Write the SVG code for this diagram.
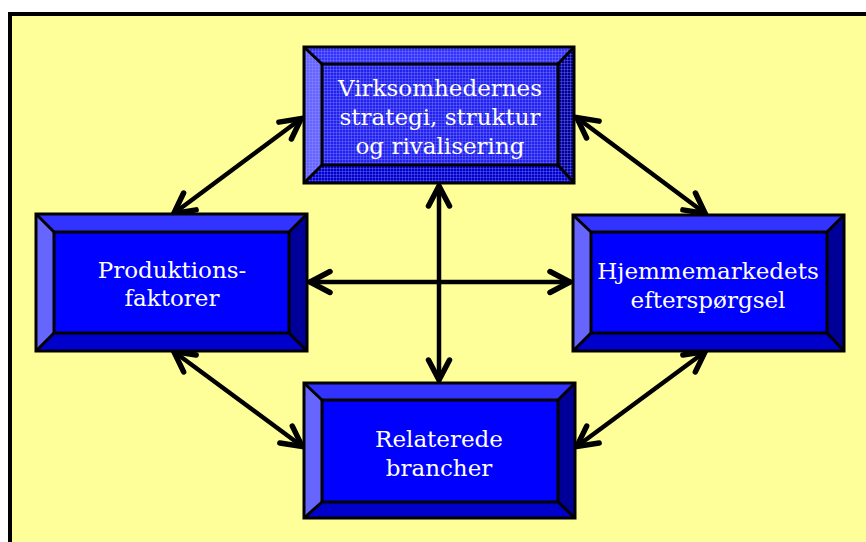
<svg xmlns="http://www.w3.org/2000/svg" width="866" height="542" viewBox="0 0 866 542">
<defs>
<style>
.bt{fill:#3333FF}
.bl{fill:#6666FF}
.br{fill:#000099}
.bb{fill:#0000CC}
.face{fill:#0000FF}
.edge{fill:none;stroke:#000;stroke-width:3}
.lbl{font-family:"DejaVu Serif","Liberation Serif",serif;font-size:23px;fill:#FFFFFF;text-anchor:middle}
.con{stroke:#000;stroke-width:4.5;fill:none;marker-start:url(#ah);marker-end:url(#ah)}
</style>
<marker id="ah" markerUnits="userSpaceOnUse" viewBox="-28 -16 32 32" refX="0" refY="0" markerWidth="32" markerHeight="32" orient="auto-start-reverse">
<path d="M -21 -10.5 L -1 0 L -21 10.5" fill="none" stroke="#000" stroke-width="5.5" stroke-linecap="round" stroke-linejoin="miter"/>
</marker>
<pattern id="tex" width="3" height="3" patternUnits="userSpaceOnUse">
<rect x="0" y="0" width="1" height="3" fill="#9999FF" fill-opacity="0.3"/>
<rect x="0" y="0" width="3" height="1" fill="#9999FF" fill-opacity="0.3"/>
</pattern>
</defs>
<rect x="10" y="14" width="900" height="600" fill="#FFFF99" stroke="#000" stroke-width="4"/>

<g id="connectors">
<line class="con" x1="309" y1="282" x2="571" y2="282"/>
<line class="con" x1="439" y1="185" x2="439" y2="381"/>
<line class="con" x1="302" y1="118" x2="173" y2="214"/>
<line class="con" x1="576" y1="117" x2="706" y2="214"/>
<line class="con" x1="173" y1="351" x2="303" y2="447"/>
<line class="con" x1="706" y1="351" x2="576" y2="447"/>
</g>

<g id="node-top">
<polygon class="bt" points="304,47 574,47 558,64 322,64"/>
<polygon class="bl" points="304,47 322,64 322,165 304,183"/>
<polygon class="br" points="574,47 574,183 558,165 558,64"/>
<polygon class="bb" points="304,183 322,165 558,165 574,183"/>
<rect x="322" y="64" width="236" height="101" fill="#2222EE"/>
<rect x="304" y="47" width="270" height="136" fill="url(#tex)"/>
<rect class="edge" x="304" y="47" width="270" height="136"/>
<rect class="edge" x="322" y="64" width="236" height="101"/>
<path class="edge" d="M304,47 L322,64 M574,47 L558,64 M304,183 L322,165 M574,183 L558,165"/>
<text class="lbl" x="440" y="96">Virksomhedernes</text>
<text class="lbl" x="440" y="125">strategi, struktur</text>
<text class="lbl" x="440" y="154">og rivalisering</text>
</g>

<g id="node-left">
<polygon class="bt" points="36,214 307,214 289,232 54,232"/>
<polygon class="bl" points="36,214 54,232 54,333 36,351"/>
<polygon class="br" points="307,214 307,351 289,333 289,232"/>
<polygon class="bb" points="36,351 54,333 289,333 307,351"/>
<rect class="face" x="54" y="232" width="235" height="101"/>
<rect class="edge" x="36" y="214" width="271" height="137"/>
<rect class="edge" x="54" y="232" width="235" height="101"/>
<path class="edge" d="M36,214 L54,232 M307,214 L289,232 M36,351 L54,333 M307,351 L289,333"/>
<text class="lbl" x="172" y="278">Produktions-</text>
<text class="lbl" x="172" y="306">faktorer</text>
</g>

<g id="node-right">
<polygon class="bt" points="573,215 844,215 827,232 591,232"/>
<polygon class="bl" points="573,215 591,232 591,333 573,351"/>
<polygon class="br" points="844,215 844,351 827,333 827,232"/>
<polygon class="bb" points="573,351 591,333 827,333 844,351"/>
<rect class="face" x="591" y="232" width="236" height="101"/>
<rect class="edge" x="573" y="215" width="271" height="136"/>
<rect class="edge" x="591" y="232" width="236" height="101"/>
<path class="edge" d="M573,215 L591,232 M844,215 L827,232 M573,351 L591,333 M844,351 L827,333"/>
<text class="lbl" x="708" y="279">Hjemmemarkedets</text>
<text class="lbl" x="708" y="308">efterspørgsel</text>
</g>

<g id="node-bottom">
<polygon class="bt" points="304,383 575,383 558,400 322,400"/>
<polygon class="bl" points="304,383 322,400 322,502 304,518"/>
<polygon class="br" points="575,383 575,518 558,502 558,400"/>
<polygon class="bb" points="304,518 322,502 558,502 575,518"/>
<rect class="face" x="322" y="400" width="236" height="102"/>
<rect class="edge" x="304" y="383" width="271" height="135"/>
<rect class="edge" x="322" y="400" width="236" height="102"/>
<path class="edge" d="M304,383 L322,400 M575,383 L558,400 M304,518 L322,502 M575,518 L558,502"/>
<text class="lbl" x="439" y="447">Relaterede</text>
<text class="lbl" x="439" y="476">brancher</text>
</g>
</svg>
